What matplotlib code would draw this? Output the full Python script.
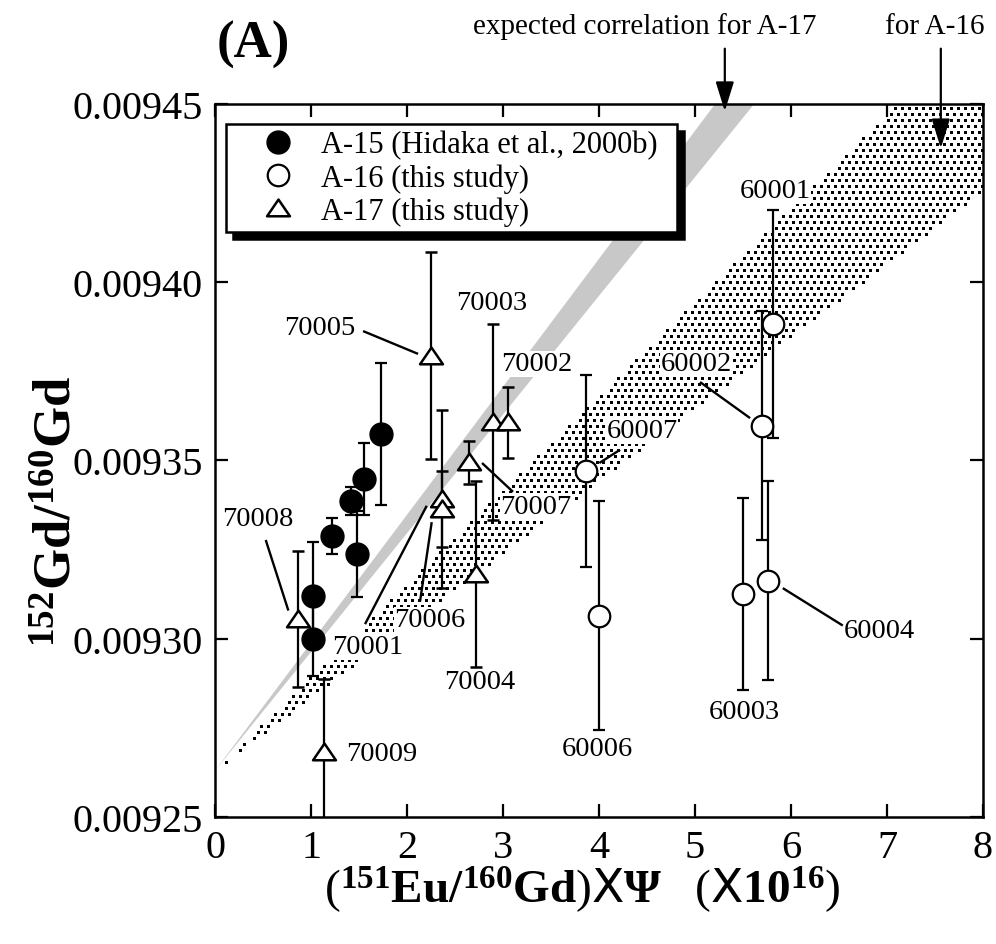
import matplotlib
matplotlib.use("Agg")
import matplotlib.pyplot as plt
from matplotlib.lines import Line2D
from matplotlib.path import Path
import numpy as np

plt.rcParams["font.family"] = ["Liberation Serif", "DejaVu Serif"]
plt.rcParams["mathtext.fontset"] = "custom"
plt.rcParams["mathtext.rm"] = "Liberation Serif"
plt.rcParams["mathtext.bf"] = "Liberation Serif:bold"
plt.rcParams["mathtext.it"] = "Liberation Serif:italic"
plt.rcParams["mathtext.sf"] = "DejaVu Sans"

# ---- data -------------------------------------------------------------
# A-15 (Hidaka et al., 2000b)
a15_x = [1.726, 1.555, 1.417, 1.476, 1.222, 1.024, 1.024]
a15_y = [0.0093574, 0.0093448, 0.0093387, 0.0093238, 0.0093289, 0.0093121, 0.0093000]
a15_err = [2.0e-5, 1.0e-5, 0.4e-5, 1.2e-5, 0.5e-5, 1.5e-5, 1.05e-5]

# A-16 (this study)
a16_names = ["60001", "60002", "60007", "60006", "60003", "60004"]
a16_x = [5.809, 5.695, 3.865, 4.003, 5.497, 5.757]
a16_y = [0.0093883, 0.0093598, 0.0093471, 0.0093065, 0.0093126, 0.0093163]
a16_err = [3.2e-5, 3.22e-5, 2.7e-5, 3.22e-5, 2.7e-5, 2.8e-5]

# A-17 (this study)
a17_names = ["70005", "70003", "70002", "70007", "70001", "70006", "70004", "70008", "70009"]
a17_x = [2.25, 2.893, 3.056, 2.65, 2.36, 2.36, 2.72, 0.861, 1.139]
a17_y = [0.0093794, 0.0093607, 0.0093607, 0.0093495, 0.0093392, 0.0093364,
         0.0093182, 0.0093055, 0.0092681]
a17_err = [2.9e-5, 2.75e-5, 1.0e-5, 0.6e-5, 2.5e-5, 1.07e-5, 2.6e-5, 1.9e-5, 2.05e-5]

# expected correlation bands: common intercept, lower / upper slopes
band_intercept = 0.009263
band_a17_slopes = [3.33e-5, 3.59e-5]
band_a16_slopes = [2.03e-5, 2.63e-5]

x_ticks = [0, 1, 2, 3, 4, 5, 6, 7, 8]
y_ticks = [0.00925, 0.00930, 0.00935, 0.00940, 0.00945]
y_tick_labels = ["0.00925", "0.00930", "0.00935", "0.00940", "0.00945"]

# sample label placement: text position and optional leader line
label_pos = {
    "70005": (1.094, 0.0093872, (1.542, 0.0093863, 2.115, 0.0093799)),
    "70003": (2.885, 0.0093942, None),
    "70002": (3.354, 0.0093771, None),
    "70007": (3.344, 0.0093372, (2.781, 0.0093493, 3.104, 0.0093412)),
    "70008": (0.448, 0.0093336, (0.528, 0.0093277, 0.764, 0.0093079)),
    "70001": (1.594, 0.0092977, (1.5625, 0.0093041, 2.205, 0.0093373)),
    "70006": (2.240, 0.0093053, (2.135, 0.0093104, 2.257, 0.0093327)),
    "70004": (2.760, 0.0092879, None),
    "70009": (1.740, 0.0092677, None),
    "60001": (5.833, 0.0094256, None),
    "60002": (5.010, 0.0093771, (5.052, 0.0093720, 5.573, 0.0093619)),
    "60007": (4.448, 0.0093583, (4.219, 0.0093530, 4.003, 0.0093493)),
    "60006": (3.979, 0.0092691, None),
    "60003": (5.510, 0.0092797, None),
    "60004": (6.917, 0.0093022, (5.914, 0.0093142, 6.539, 0.0093037)),
}

# ---- figure -----------------------------------------------------------
fig = plt.figure(figsize=(9.96, 9.45), dpi=100)
ax = fig.add_axes([0.2159, 0.1344, 0.7711, 0.7545])
ax.set_xlim(0, 8)
ax.set_ylim(0.00925, 0.00945)

# A-16 band: stipple of small square dots on a staggered, pixel-aligned grid
bb = ax.bbox
step_x, step_y = 7, 6
gy = np.arange(np.floor(bb.y0) + 0.5, bb.y1, step_y)
pts = []
for i, py in enumerate(gy):
    off = 0 if i % 2 == 0 else 3
    gx = np.arange(np.floor(bb.x0) + 0.5 + off, bb.x1, step_x)
    pts.append(np.column_stack([gx, np.full_like(gx, py)]))
pts = ax.transData.inverted().transform(np.vstack(pts))
lo16 = band_intercept + band_a16_slopes[0] * pts[:, 0]
hi16 = band_intercept + band_a16_slopes[1] * pts[:, 0]
inside = (pts[:, 1] >= lo16) & (pts[:, 1] <= hi16)
ax.scatter(pts[inside, 0], pts[inside, 1], marker="s", s=(3 * 0.72) ** 2,
           color="black", linewidths=0, zorder=1)

# A-17 band (grey)
xs = np.array([0.0, 8.0])
ax.fill_between(xs, band_intercept + band_a17_slopes[0] * xs,
                band_intercept + band_a17_slopes[1] * xs,
                facecolor="#c8c8c8", edgecolor="none", linewidth=0, zorder=1.2)

# sample labels with leader lines
for name, (tx, ty, leader) in label_pos.items():
    ax.text(tx, ty, name, fontsize=20.5, ha="center", va="center", zorder=2.5,
            bbox=dict(facecolor="white", edgecolor="none", pad=0.5))
    if leader is not None:
        ax.plot([leader[0], leader[2]], [leader[1], leader[3]], color="black",
                lw=1.7, solid_capstyle="butt", zorder=2.6)

eb_kw = dict(ecolor="black", elinewidth=1.6, capsize=4.5, capthick=1.6,
             linestyle="none", zorder=4)
tri = Path([(-1.0, -0.68), (1.0, -0.68), (0.0, 0.78), (-1.0, -0.68)], closed=True)

ax.errorbar(a15_x, a15_y, yerr=a15_err, marker="o", ms=16.5, mfc="black",
            mec="black", **eb_kw)
ax.errorbar(a16_x, a16_y, yerr=a16_err, marker="o", ms=15.5, mfc="white",
            mec="black", mew=1.6, **eb_kw)
ax.errorbar(a17_x, a17_y, yerr=a17_err, marker=tri, ms=16.5, mfc="white",
            mec="black", mew=1.8, **eb_kw)

# axes styling
ax.set_xticks(x_ticks)
ax.set_xticklabels([str(t) for t in x_ticks])
ax.set_yticks(y_ticks)
ax.set_yticklabels(y_tick_labels)
ax.tick_params(direction="in", length=9.5, width=1.6, top=True, right=True,
               labelsize=29, pad=9)
for sp in ax.spines.values():
    sp.set_linewidth(1.8)

# legend
handles = [
    Line2D([], [], marker="o", ms=16.5, mfc="black", mec="black", ls="none"),
    Line2D([], [], marker="o", ms=15.5, mfc="white", mec="black", mew=1.6, ls="none"),
    Line2D([], [], marker=tri, ms=16.5, mfc="white", mec="black", mew=1.8, ls="none"),
]
labels = ["A-15 (Hidaka et al., 2000b)", "A-16 (this study)", "A-17 (this study)"]
leg = ax.legend(handles, labels, loc="upper left",
                bbox_to_anchor=(0.0143, 0.8205, 0.5873, 0.1515), mode="expand",
                borderaxespad=0, fontsize=22, fancybox=False, framealpha=1,
                edgecolor="black", borderpad=0.2, labelspacing=0.12,
                handlelength=3.0, handletextpad=-0.1,
                shadow={"color": "black", "alpha": 1, "ox": 5, "oy": -5})
leg.get_frame().set_linewidth(1.8)
leg.set_zorder(6)

# arrows to the bands
ax.annotate("", xy=(5.31, 0.0094472), xytext=(5.31, 0.0094663),
            arrowprops=dict(arrowstyle="-|>,head_length=0.9,head_width=0.28",
                            mutation_scale=20, color="black", lw=1.6),
            annotation_clip=False)
ax.annotate("", xy=(7.56, 0.0094368), xytext=(7.56, 0.0094663),
            arrowprops=dict(arrowstyle="-|>,head_length=0.9,head_width=0.28",
                            mutation_scale=20, color="black", lw=1.6),
            annotation_clip=False)

fig.text(645 / 996, 1 - 27 / 945, "expected correlation for A-17", fontsize=21,
         ha="center", va="center")
fig.text(935 / 996, 1 - 27 / 945, "for A-16", fontsize=21, ha="center", va="center")
fig.text(253 / 996, 1 - 45 / 945, "(A)", fontsize=38, fontweight="bold",
         ha="center", va="center")

fig.text(58 / 996, 1 - 512 / 945,
         r"$^{\mathbf{152}}\mathbf{Gd/}^{\mathbf{160}}\mathbf{Gd}$",
         fontsize=38, rotation=90, ha="center", va="center")
fig.text(582 / 996, 1 - 890 / 945,
         r"$(^{\mathbf{151}}\mathbf{Eu/}^{\mathbf{160}}\mathbf{Gd})\mathsf{X}\mathbf{\Psi}\quad(\mathsf{X}\mathbf{10}^{\mathbf{16}})$",
         fontsize=34, ha="center", va="center")

fig.savefig("out.png", dpi=100)
